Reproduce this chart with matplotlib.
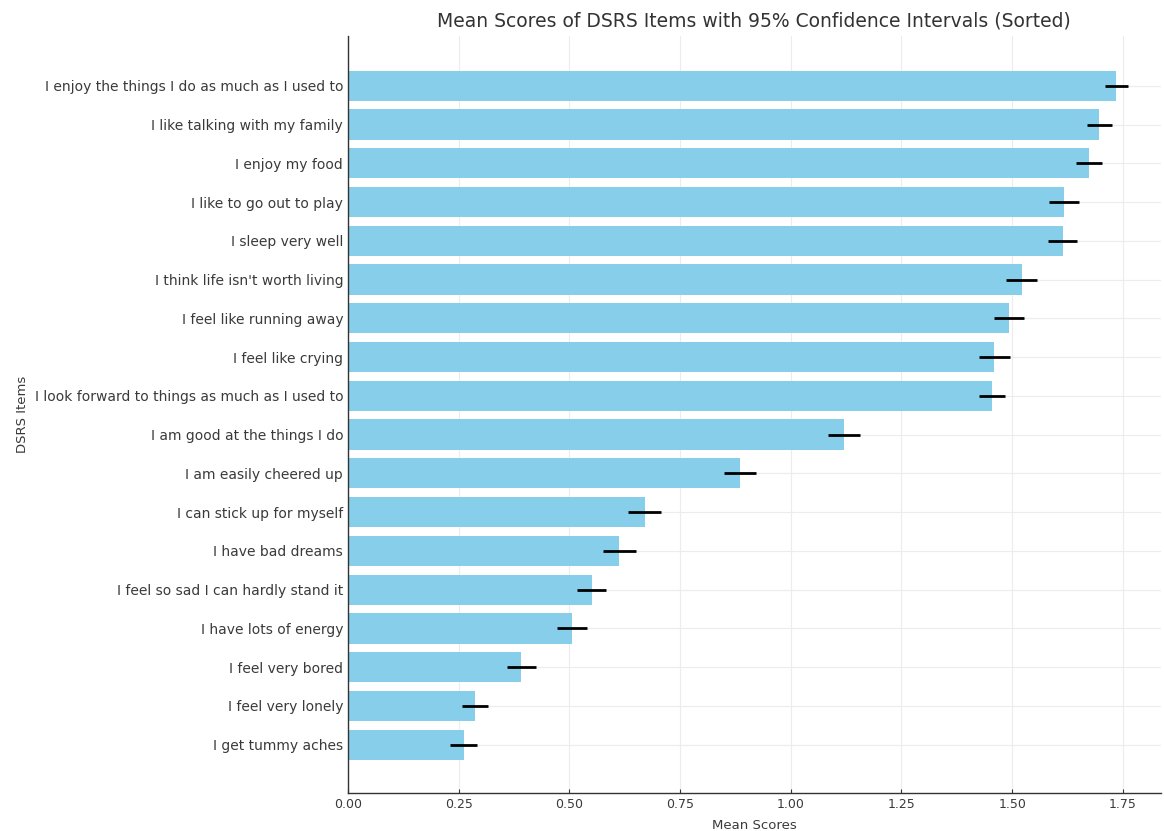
import numpy as np
import matplotlib
matplotlib.use("Agg")
import matplotlib.pyplot as plt

# DSRS items, sorted by mean score (top of chart first)
items = [
    "I enjoy the things I do as much as I used to",
    "I like talking with my family",
    "I enjoy my food",
    "I like to go out to play",
    "I sleep very well",
    "I think life isn't worth living",
    "I feel like running away",
    "I feel like crying",
    "I look forward to things as much as I used to",
    "I am good at the things I do",
    "I am easily cheered up",
    "I can stick up for myself",
    "I have bad dreams",
    "I feel so sad I can hardly stand it",
    "I have lots of energy",
    "I feel very bored",
    "I feel very lonely",
    "I get tummy aches",
]
means = [1.735, 1.697, 1.674, 1.618, 1.614, 1.522, 1.493, 1.460, 1.454,
         1.120, 0.886, 0.670, 0.613, 0.550, 0.505, 0.391, 0.287, 0.261]
ci = [0.026, 0.028, 0.029, 0.034, 0.032, 0.035, 0.034, 0.035, 0.030,
      0.036, 0.036, 0.037, 0.037, 0.033, 0.034, 0.033, 0.030, 0.030]

fig = plt.figure(figsize=(11.64, 8.31), dpi=100)
ax = fig.add_axes([0.299, 0.046, 0.698, 0.911])

# plot smallest first so largest ends at top
y = np.arange(len(items))
ax.barh(y, means[::-1], xerr=ci[::-1], color="skyblue", height=0.78,
        error_kw=dict(ecolor="black", elinewidth=2, capsize=0))

ax.set_yticks(y)
ax.set_yticklabels(items[::-1], fontsize=10, color="#3a3a3a")
ax.set_xticks([0, 0.25, 0.5, 0.75, 1.0, 1.25, 1.5, 1.75])
ax.set_xticklabels(["0.00", "0.25", "0.50", "0.75", "1.00", "1.25", "1.50", "1.75"],
                   fontsize=9, color="#3a3a3a")
ax.set_xlim(0, 1.835)
ax.set_ylim(-1.24, 18.29)

ax.set_xlabel("Mean Scores", fontsize=9.5, color="#3a3a3a", labelpad=6)
ax.set_ylabel("DSRS Items", fontsize=9.5, color="#3a3a3a", labelpad=4)
ax.set_title("Mean Scores of DSRS Items with 95% Confidence Intervals (Sorted)",
             fontsize=13.5, color="#333333", pad=7)

ax.grid(True, color="#ececec", linewidth=0.8)
ax.set_axisbelow(True)
ax.spines[["top", "right"]].set_visible(False)
ax.spines[["left", "bottom"]].set(color="#333333", linewidth=1)
ax.tick_params(axis="both", length=3, color="#333333", direction="in")

fig.savefig("out.png", dpi=100)
